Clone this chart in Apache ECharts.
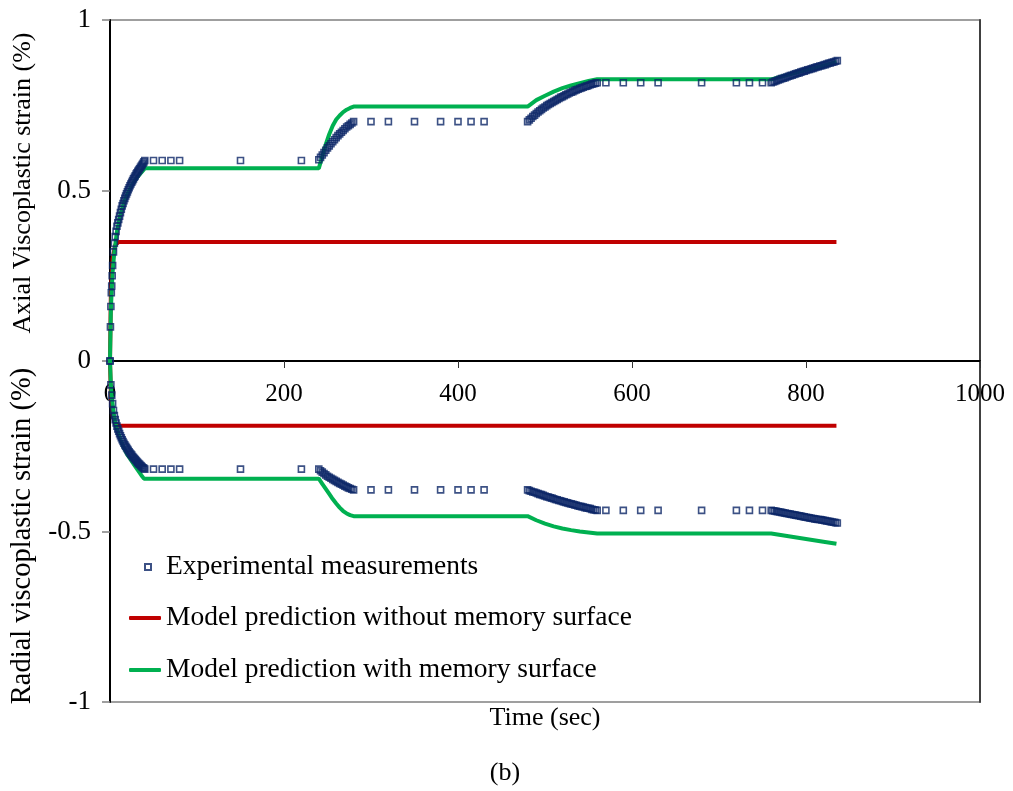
<!DOCTYPE html>
<html>
<head>
<meta charset="utf-8">
<script src="https://cdn.jsdelivr.net/npm/echarts@6/dist/echarts.min.js"></script>
<style>
  html, body { margin: 0; padding: 0; background: #fff; }
  #chart { width: 1013px; height: 791px; }
</style>
</head>
<body>
<div id="chart"></div>
<script>
// Time axis ticks and strain axis ticks
const xTicks = [0, 200, 400, 600, 800, 1000];
const yTicks = [-1, -0.5, 0, 0.5, 1];

// Experimental measurements, axial viscoplastic strain (%) vs time (sec)
const expAxial = [
  [0, 0], [0.5, 0.10], [1, 0.16], [1.5, 0.20], [2, 0.22], [2.5, 0.25], [3, 0.28], [4, 0.32], [5, 0.345],
  [6, 0.365], [7, 0.38], [8, 0.395], [9, 0.405], [10, 0.415], [11, 0.425], [12, 0.435], [13, 0.445],
  [14, 0.455], [15, 0.462], [16, 0.47], [17, 0.477], [18, 0.484], [19, 0.49], [20, 0.496], [21, 0.502],
  [22, 0.508], [23, 0.514], [24, 0.519], [25, 0.524], [26, 0.529], [27, 0.534], [28, 0.539], [29, 0.543],
  [30, 0.548], [31, 0.552], [32, 0.556], [33, 0.56], [34, 0.564], [35, 0.568], [36, 0.572], [37, 0.576],
  [38, 0.58], [39, 0.584], [40, 0.588],
  [50, 0.588], [60, 0.588], [70, 0.588], [80, 0.588], [150, 0.588], [220, 0.588],
  [240, 0.59], [242, 0.597], [244, 0.604], [246, 0.611], [248, 0.618], [250, 0.625], [252, 0.631],
  [254, 0.637], [256, 0.643], [258, 0.649], [260, 0.655], [262, 0.661], [264, 0.666], [266, 0.671],
  [268, 0.676], [270, 0.681], [272, 0.686], [274, 0.69], [276, 0.694], [278, 0.698], [280, 0.702],
  [300, 0.702], [320, 0.702], [350, 0.702], [380, 0.702], [400, 0.702], [415, 0.702], [430, 0.702],
  [480, 0.702], [482, 0.707], [484, 0.712], [486, 0.717], [488, 0.721], [490, 0.726], [492, 0.73],
  [494, 0.734], [496, 0.738], [498, 0.742], [500, 0.745], [502, 0.749], [504, 0.752], [506, 0.755],
  [508, 0.758], [510, 0.761], [512, 0.764], [514, 0.767], [516, 0.77], [518, 0.773], [520, 0.775],
  [522, 0.778], [524, 0.781], [526, 0.783], [528, 0.786], [530, 0.788], [532, 0.79], [534, 0.793],
  [536, 0.795], [538, 0.797], [540, 0.799], [542, 0.801], [544, 0.803], [546, 0.805], [548, 0.806],
  [550, 0.808], [552, 0.81], [554, 0.812], [556, 0.813], [558, 0.815], [560, 0.816],
  [570, 0.816], [590, 0.816], [610, 0.816], [630, 0.816], [680, 0.816], [720, 0.816], [735, 0.816], [750, 0.816],
  [760, 0.816], [762, 0.818], [764, 0.82], [766, 0.822], [768, 0.824], [770, 0.826], [772, 0.828],
  [774, 0.829], [776, 0.831], [778, 0.833], [780, 0.835], [782, 0.837], [784, 0.838], [786, 0.84],
  [788, 0.842], [790, 0.844], [792, 0.845], [794, 0.847], [796, 0.849], [798, 0.85], [800, 0.852],
  [802, 0.854], [804, 0.855], [806, 0.857], [808, 0.858], [810, 0.86], [812, 0.862], [814, 0.863],
  [816, 0.865], [818, 0.866], [820, 0.868], [822, 0.869], [824, 0.871], [826, 0.873], [828, 0.874],
  [830, 0.876], [832, 0.877], [834, 0.879], [836, 0.881]
];

// Experimental measurements, radial viscoplastic strain (%) vs time (sec)
const expRadial = [
  [0, 0], [1, -0.07], [2, -0.10], [3, -0.125], [4, -0.145], [5, -0.16], [6, -0.172], [7, -0.182],
  [8, -0.191], [9, -0.199], [10, -0.206], [11, -0.213], [12, -0.219], [13, -0.225], [14, -0.231],
  [15, -0.236], [16, -0.241], [17, -0.246], [18, -0.25], [19, -0.254], [20, -0.258], [21, -0.262],
  [22, -0.266], [23, -0.27], [24, -0.273], [25, -0.276], [26, -0.28], [27, -0.283], [28, -0.286],
  [29, -0.289], [30, -0.292], [31, -0.295], [32, -0.298], [33, -0.301], [34, -0.303], [35, -0.306],
  [36, -0.308], [37, -0.311], [38, -0.313], [39, -0.315], [40, -0.317],
  [50, -0.317], [60, -0.317], [70, -0.317], [80, -0.317], [150, -0.317], [220, -0.317],
  [240, -0.317], [242, -0.322], [244, -0.326], [246, -0.33], [248, -0.334], [250, -0.338], [252, -0.341],
  [254, -0.344], [256, -0.347], [258, -0.35], [260, -0.353], [262, -0.356], [264, -0.359], [266, -0.361],
  [268, -0.364], [270, -0.367], [272, -0.369], [274, -0.372], [276, -0.374], [278, -0.376], [280, -0.378],
  [300, -0.378], [320, -0.378], [350, -0.378], [380, -0.378], [400, -0.378], [415, -0.378], [430, -0.378],
  [480, -0.378], [482, -0.38], [484, -0.382], [486, -0.384], [488, -0.385], [490, -0.387], [492, -0.389],
  [494, -0.391], [496, -0.392], [498, -0.394], [500, -0.396], [502, -0.398], [504, -0.399], [506, -0.401],
  [508, -0.402], [510, -0.404], [512, -0.406], [514, -0.407], [516, -0.409], [518, -0.41], [520, -0.412],
  [522, -0.413], [524, -0.415], [526, -0.416], [528, -0.418], [530, -0.419], [532, -0.42], [534, -0.422],
  [536, -0.423], [538, -0.425], [540, -0.426], [542, -0.427], [544, -0.428], [546, -0.43], [548, -0.431],
  [550, -0.432], [552, -0.433], [554, -0.435], [556, -0.436], [558, -0.437], [560, -0.438],
  [570, -0.438], [590, -0.438], [610, -0.438], [630, -0.438], [680, -0.438], [720, -0.438], [735, -0.438], [750, -0.438],
  [760, -0.438], [762, -0.439], [764, -0.44], [766, -0.441], [768, -0.442], [770, -0.443], [772, -0.444],
  [774, -0.445], [776, -0.446], [778, -0.447], [780, -0.448], [782, -0.449], [784, -0.45], [786, -0.451],
  [788, -0.452], [790, -0.453], [792, -0.454], [794, -0.455], [796, -0.456], [798, -0.457], [800, -0.458],
  [802, -0.459], [804, -0.46], [806, -0.461], [808, -0.462], [810, -0.463], [812, -0.464], [814, -0.465],
  [816, -0.465], [818, -0.466], [820, -0.467], [822, -0.468], [824, -0.469], [826, -0.47], [828, -0.471],
  [830, -0.472], [832, -0.473], [834, -0.474], [836, -0.475]
];

// Model prediction without memory surface
const noMemAxial = [[0, 0], [1, 0.2], [3, 0.3], [6, 0.34], [10, 0.349], [835, 0.349]];
const noMemRadial = [[0, 0], [1, -0.1], [3, -0.16], [6, -0.185], [10, -0.19], [835, -0.19]];

// Model prediction with memory surface
const memAxial = [
  [0, 0], [1, 0.15], [2, 0.21], [3, 0.26], [5, 0.32], [8, 0.38], [12, 0.43], [16, 0.465], [20, 0.49],
  [25, 0.515], [30, 0.535], [35, 0.55], [40, 0.565], [240, 0.565],
  [244, 0.6], [248, 0.635], [252, 0.665], [256, 0.69], [260, 0.708], [264, 0.72], [268, 0.73],
  [272, 0.737], [276, 0.742], [280, 0.746], [480, 0.746],
  [490, 0.765], [500, 0.778], [510, 0.79], [520, 0.8], [530, 0.808], [540, 0.815], [550, 0.821],
  [560, 0.826], [760, 0.826], [780, 0.84], [800, 0.853], [820, 0.866], [835, 0.877]
];
const memRadial = [
  [0, 0], [1, -0.07], [2, -0.105], [4, -0.15], [6, -0.18], [8, -0.2], [12, -0.23], [16, -0.255],
  [20, -0.275], [24, -0.29], [28, -0.305], [32, -0.32], [36, -0.335], [39, -0.345], [240, -0.345],
  [244, -0.36], [248, -0.375], [252, -0.39], [256, -0.405], [260, -0.418], [264, -0.43], [268, -0.44],
  [272, -0.447], [276, -0.452], [280, -0.455], [480, -0.455],
  [490, -0.467], [500, -0.477], [510, -0.485], [520, -0.491], [530, -0.496], [540, -0.5], [550, -0.503],
  [560, -0.506], [760, -0.506], [780, -0.514], [800, -0.522], [820, -0.53], [835, -0.536]
];

const NAME_EXP = 'Experimental measurements';
const NAME_NOMEM = 'Model prediction without memory surface';
const NAME_MEM = 'Model prediction with memory surface';

const FONT = '"Liberation Serif", "Times New Roman", serif';
const NAVY = '#0B2566';
const RED = '#C00000';
const GREEN = '#00B050';

// Plot box in pixels; the time axis sits on the zero line, halfway down the box
const GRID = { left: 110, right: 33, top: 20, bottom: 89 };
const plotHeight = 791 - GRID.top - GRID.bottom;

const chart = echarts.init(document.getElementById('chart'), null, { renderer: 'canvas' });

const lineSeries = (name, data, color) => ({
  name, type: 'line', data, symbol: 'none', smooth: false, z: 2,
  lineStyle: { color, width: 4 }, itemStyle: { color }
});
const expSeries = (data) => ({
  name: NAME_EXP, type: 'scatter', data, symbol: 'rect', symbolSize: 6, z: 4,
  itemStyle: { color: 'rgba(0,0,0,0)', borderColor: NAVY, borderWidth: 1.6 }
});

chart.setOption({
  animation: false,
  backgroundColor: '#fff',
  textStyle: { fontFamily: FONT, color: '#000' },
  grid: Object.assign({
    show: true, borderColor: '#808080', borderWidth: 1.5, backgroundColor: 'transparent'
  }, GRID),
  xAxis: {
    type: 'value', position: 'bottom', min: xTicks[0], max: xTicks[xTicks.length - 1], interval: 200,
    offset: -plotHeight * (0 - yTicks[0]) / (yTicks[yTicks.length - 1] - yTicks[0]),
    axisLine: { onZero: false, lineStyle: { color: '#000', width: 2 } },
    axisTick: { show: true, length: 7, lineStyle: { color: '#333', width: 1 } },
    axisLabel: { fontSize: 25, fontFamily: FONT, color: '#000', margin: 21, formatter: (v) => String(v) },
    splitLine: { show: false }
  },
  yAxis: [{
    type: 'value', min: yTicks[0], max: yTicks[yTicks.length - 1], interval: 0.5,
    axisLine: { show: true, onZero: false, lineStyle: { color: '#000', width: 2 } },
    axisTick: { show: true, length: 8, lineStyle: { color: '#808080', width: 1.5 } },
    axisLabel: { fontSize: 27, fontFamily: FONT, color: '#000', margin: 19 },
    splitLine: { show: false }
  }, {
    type: 'value', position: 'right', min: yTicks[0], max: yTicks[yTicks.length - 1],
    axisLine: { show: true, onZero: false, lineStyle: { color: '#404040', width: 2 } },
    axisTick: { show: false }, axisLabel: { show: false }, splitLine: { show: false }
  }],
  legend: [{
    data: [NAME_EXP], orient: 'vertical', left: 139, top: 547,
    itemWidth: 6, itemHeight: 6, selectedMode: false,
    textStyle: { fontSize: 27.5, fontFamily: FONT, color: '#000', lineHeight: 30, padding: [0, 0, 0, 10] }
  }, {
    data: [
      { name: NAME_NOMEM, icon: 'roundRect', itemStyle: { color: RED } },
      { name: NAME_MEM, icon: 'roundRect', itemStyle: { color: GREEN } }
    ],
    orient: 'vertical', left: 124, top: 598,
    itemWidth: 32, itemHeight: 4, itemGap: 22, selectedMode: false,
    textStyle: { fontSize: 27.5, fontFamily: FONT, color: '#000', lineHeight: 30 }
  }],
  graphic: [
    { type: 'text', x: 23, y: 183, rotation: Math.PI / 2,
      style: { text: 'Axial Viscoplastic strain (%)', font: '26px ' + FONT, fill: '#000', align: 'center', verticalAlign: 'middle' } },
    { type: 'text', x: 23, y: 536, rotation: Math.PI / 2,
      style: { text: 'Radial viscoplastic strain (%)', font: '28.5px ' + FONT, fill: '#000', align: 'center', verticalAlign: 'middle' } },
    { type: 'text', x: 545, y: 718,
      style: { text: 'Time (sec)', font: '26px ' + FONT, fill: '#000', align: 'center', verticalAlign: 'middle' } },
    { type: 'text', x: 505, y: 773,
      style: { text: '(b)', font: '26px ' + FONT, fill: '#000', align: 'center', verticalAlign: 'middle' } }
  ],
  series: [
    lineSeries(NAME_NOMEM, noMemAxial, RED),
    lineSeries(NAME_NOMEM, noMemRadial, RED),
    lineSeries(NAME_MEM, memAxial, GREEN),
    lineSeries(NAME_MEM, memRadial, GREEN),
    expSeries(expAxial),
    expSeries(expRadial)
  ]
});
</script>
</body>
</html>
